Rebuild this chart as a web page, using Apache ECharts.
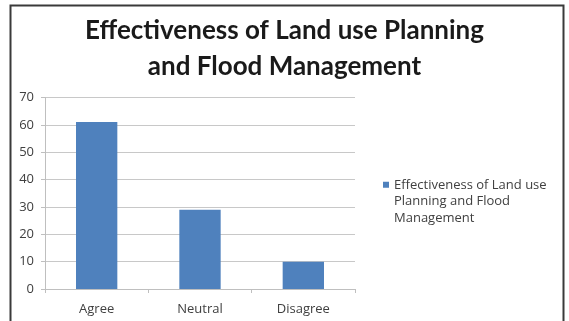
<!DOCTYPE html>
<html>
<head>
<meta charset="utf-8">
<script src="https://cdn.jsdelivr.net/npm/echarts@6/dist/echarts.min.js"></script>
<style>
html,body{margin:0;padding:0;background:#fff;}
#c{width:569px;height:321px;}
</style>
</head>
<body>
<div id="c"></div>
<script>
const categories = ["Agree", "Neutral", "Disagree"];
const values = [61, 29, 10];
const seriesName = "Effectiveness of Land use Planning and Flood Management";
const legendLines = ["Effectiveness of Land use", "Planning and Flood", "Management"];
const titleText = "Effectiveness of Land use Planning\nand Flood Management";
const yTicks = [0, 10, 20, 30, 40, 50, 60, 70];

const chart = echarts.init(document.getElementById('c'), null, {renderer: 'canvas'});
chart.setOption({
  backgroundColor: '#fff',
  animation: false,
  title: {
    text: titleText,
    left: 'center',
    top: 8,
    textStyle: {
      fontFamily: 'Lato',
      fontWeight: 'bold',
      fontSize: 26,
      lineHeight: 36,
      color: '#1a1a1a'
    }
  },
  graphic: [{
    type: 'rect',
    shape: {x: 10.5, y: 5.5, width: 553, height: 330},
    style: {fill: 'none', stroke: '#3a3a3a', lineWidth: 2},
    silent: true
  }],
  legend: {
    left: 378,
    top: 172,
    orient: 'vertical',
    itemWidth: 6,
    itemHeight: 40,
    itemGap: 4,
    icon: 'path://M0,0h6v6h-6z M5.95,39.95h0.05v0.05h-0.05z',
    formatter: function () { return legendLines.join("\n"); },
    textStyle: {
      fontFamily: 'Open Sans',
      fontSize: 13,
      lineHeight: 16.5,
      color: '#404040'
    }
  },
  grid: {left: 45, right: 214, top: 97.5, bottom: 32, containLabel: false},
  xAxis: {
    type: 'category',
    data: categories,
    axisLine: {show: true, lineStyle: {color: '#bfbfbf', width: 1}},
    axisTick: {show: true, length: 4, lineStyle: {color: '#bfbfbf'}},
    axisLabel: {fontFamily: 'Open Sans', fontSize: 13, color: '#404040', margin: 14}
  },
  yAxis: {
    type: 'value',
    min: yTicks[0],
    max: yTicks[yTicks.length - 1],
    interval: yTicks[1] - yTicks[0],
    axisLine: {show: true, lineStyle: {color: '#bfbfbf', width: 1}},
    axisTick: {show: true, length: 4, lineStyle: {color: '#bfbfbf'}},
    splitLine: {show: true, lineStyle: {color: '#c8c8c8', width: 1}},
    axisLabel: {fontFamily: 'Open Sans', fontSize: 13, color: '#404040', margin: 11}
  },
  series: [{
    name: seriesName,
    type: 'bar',
    data: values,
    barWidth: '40%',
    itemStyle: {color: '#4f81bd'}
  }]
});
</script>
</body>
</html>
